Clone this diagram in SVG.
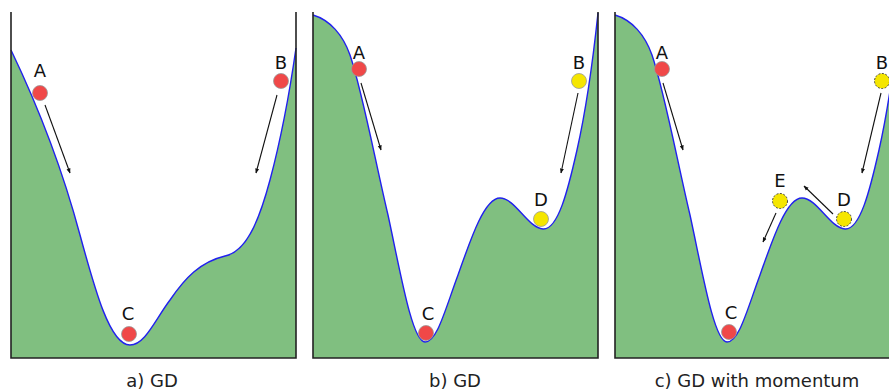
<svg xmlns="http://www.w3.org/2000/svg" width="889" height="390" viewBox="0 0 889 390">
<style>
.land{fill:#80bf80;stroke:none}
.curve{fill:none;stroke:#2020ee;stroke-width:1.4}
.frame{fill:none;stroke:#222;stroke-width:1.6}
.red{fill:#f04848;stroke:#999;stroke-width:0.8}
.yel{fill:#f5e600;stroke:#999;stroke-width:0.8}
.yeld{fill:#f5e600;stroke:#333;stroke-width:0.9;stroke-dasharray:2 1.5}
.lbl{font-family:"DejaVu Sans",sans-serif;font-size:18px;fill:#111;text-anchor:middle}
.cap{font-family:"DejaVu Sans",sans-serif;font-size:18px;fill:#222;text-anchor:middle}
.arr{stroke:#111;stroke-width:1.1;fill:none;marker-end:url(#ah)}
</style>
<defs>
<marker id="ah" viewBox="0 0 10 10" refX="9" refY="5" markerWidth="5" markerHeight="5" orient="auto" markerUnits="userSpaceOnUse">
<path d="M0,1 L10,5 L0,9 z" fill="#111"/>
</marker>
<path id="curveB" d="M313,15 C330,20 343,35 350,55 C362,90 375,160 388,215 C400,270 412,342 425,342 C437,342 445,310 458,275 C472,235 485,198 500,198 C515,198 528,228 543,229 C558,230 568,190 577,150 C586,110 593,60 598,13"/>
</defs>
<rect width="889" height="390" fill="#fff"/>

<g id="panel-a">
<path class="land" d="M11,50 C35,100 60,160 80,235 C95,290 110,345 130,345 C145,345 155,320 170,300 C185,278 200,262 225,256 C245,252 258,225 270,180 C282,135 290,90 296,48 L296,358 L11,358 Z"/>
<path class="curve" d="M11,50 C35,100 60,160 80,235 C95,290 110,345 130,345 C145,345 155,320 170,300 C185,278 200,262 225,256 C245,252 258,225 270,180 C282,135 290,90 296,48"/>
<path class="frame" d="M11,12 L11,358 L296,358 L296,12"/>
<text class="cap" x="152" y="387">a) GD</text>
</g>

<g id="panel-b">
<path class="land" d="M313,15 C330,20 343,35 350,55 C362,90 375,160 388,215 C400,270 412,342 425,342 C437,342 445,310 458,275 C472,235 485,198 500,198 C515,198 528,228 543,229 C558,230 568,190 577,150 C586,110 593,60 598,13 L598,358 L313,358 Z"/>
<use href="#curveB" class="curve"/>
<path class="frame" d="M313,12 L313,358 L598,358 L598,12"/>
<text class="cap" x="455" y="387">b) GD</text>
</g>

<g id="panel-c">
<g transform="translate(302,0)">
<path class="land" d="M313,15 C330,20 343,35 350,55 C362,90 375,160 388,215 C400,270 412,342 425,342 C437,342 445,310 458,275 C472,235 485,198 500,198 C515,198 528,228 543,229 C558,230 568,190 577,150 C586,110 593,60 598,13 L598,358 L313,358 Z"/>
<use href="#curveB" class="curve"/>
<path class="frame" d="M313,12 L313,358 L598,358 L598,12"/>
</g>
<text class="cap" x="757" y="387">c) GD with momentum</text>
</g>

<g id="connectors">
<line class="arr" x1="45" y1="105" x2="70" y2="173"/>
<line class="arr" x1="277" y1="95" x2="256" y2="173"/>
<line class="arr" x1="361" y1="83" x2="381" y2="150"/>
<line class="arr" x1="578" y1="93" x2="561" y2="173"/>
<line class="arr" x1="663" y1="83" x2="683" y2="150"/>
<line class="arr" x1="881" y1="93" x2="862" y2="173"/>
<line class="arr" x1="833" y1="214" x2="804" y2="186"/>
<line class="arr" x1="776" y1="213" x2="763" y2="242"/>
</g>

<g id="a-A"><circle class="red" cx="40" cy="93" r="7.5"/><text class="lbl" x="40" y="77">A</text></g>
<g id="a-B"><circle class="red" cx="281" cy="81" r="7.5"/><text class="lbl" x="281" y="69">B</text></g>
<g id="a-C"><circle class="red" cx="129" cy="334" r="7.5"/><text class="lbl" x="128" y="320">C</text></g>

<g id="b-A"><circle class="red" cx="359" cy="69" r="7.5"/><text class="lbl" x="359" y="59">A</text></g>
<g id="b-B"><circle class="yel" cx="579" cy="81" r="7.5"/><text class="lbl" x="579" y="69">B</text></g>
<g id="b-C"><circle class="red" cx="426" cy="333" r="7.5"/><text class="lbl" x="428" y="320">C</text></g>
<g id="b-D"><circle class="yel" cx="541" cy="219" r="7.5"/><text class="lbl" x="541" y="206">D</text></g>

<g id="c-A"><circle class="red" cx="662" cy="69" r="7.5"/><text class="lbl" x="662" y="59">A</text></g>
<g id="c-B"><circle class="yeld" cx="882" cy="81" r="7.5"/><text class="lbl" x="882" y="69">B</text></g>
<g id="c-C"><circle class="red" cx="729" cy="332" r="7.5"/><text class="lbl" x="731" y="319">C</text></g>
<g id="c-D"><circle class="yeld" cx="844" cy="219" r="7.5"/><text class="lbl" x="844" y="206">D</text></g>
<g id="c-E"><circle class="yeld" cx="780" cy="201" r="7.5"/><text class="lbl" x="780" y="187">E</text></g>
</svg>
